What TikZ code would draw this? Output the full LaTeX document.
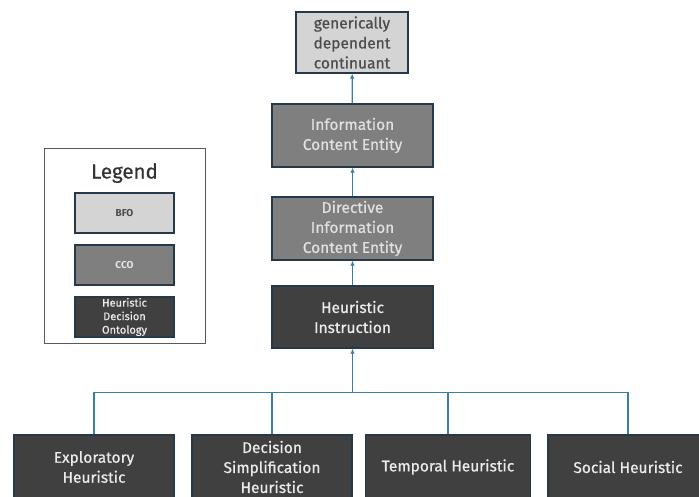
\documentclass[tikz,border=0pt]{standalone}
\usepackage{fontspec}
\setmainfont{Fira Sans}
\newfontfamily\boxfont{Fira Sans}[FakeBold=0.6]
\usetikzlibrary{arrows.meta}
\definecolor{bfogray}{HTML}{D4D4D4}
\definecolor{ccogray}{HTML}{7F7F7F}
\definecolor{hdogray}{HTML}{404040}
\definecolor{edgeblue}{HTML}{26394A}
\definecolor{linkblue}{HTML}{3A7FA3}
\begin{document}
\begin{tikzpicture}[x=1pt,y=-1pt,
  box/.style={draw=edgeblue,line width=1.3pt,align=center,inner sep=0pt,
    font=\boxfont\fontsize{15.5}{20}\selectfont},
  bfo/.style={box,fill=bfogray,text=black!70},
  cco/.style={box,fill=ccogray,text=black!12},
  hdo/.style={box,fill=hdogray,text=black!8},
  link/.style={linkblue,line width=1.2pt},
  isa/.style={link,-{Latex[length=5pt,width=4.5pt]}}]
\clip (0,0) rectangle (699,496);
\fill[white] (0,0) rectangle (699,496);

% main chain
\node (gdc) at (352,42.5) [bfo,minimum width=112pt,minimum height=61pt]{generically\\dependent\\continuant};
\node (ice) at (352.5,135.5) [cco,minimum width=161pt,minimum height=63pt]{Information\\Content Entity};
\node (dice) at (352.5,228.5) [cco,minimum width=161pt,minimum height=63pt]{Directive\\Information\\Content Entity};
\node (hi) at (352.5,317) [hdo,minimum width=161pt,minimum height=62pt]{Heuristic\\Instruction};

% heuristic kinds
\node (exh) at (94,467) [hdo,minimum width=160pt,minimum height=64pt]{Exploratory\\Heuristic};
\node (dsh) at (272,467) [hdo,minimum width=160pt,minimum height=64pt]{Decision\\Simplification\\Heuristic};
\node (tmh) at (448,467) [hdo,minimum width=165pt,minimum height=64pt]{Temporal Heuristic};
\node (soh) at (628,467) [hdo,minimum width=160pt,minimum height=64pt]{Social Heuristic};

\coordinate (bus) at (352.5,392.5);

\draw[isa] (ice)--(gdc);
\draw[isa] (dice)--(ice);
\draw[isa] (hi)--(dice);
\draw[isa] (bus)--(hi);
\draw[link] (exh.north) |- (bus);
\draw[link] (dsh.north) |- (bus);
\draw[link] (tmh.north) |- (bus);
\draw[link] (soh.north) |- (bus);

% legend
\node (legend) at (124.5,245.5) [draw=black!65,line width=1pt,minimum width=161pt,minimum height=195pt]{};
\node (ltitle) at (124.5,173) [font=\boxfont\fontsize{20.5}{22}\selectfont,text=black!80]{Legend};
\node (lbfo) at (124.5,213) [box,fill=bfogray,text=black!70,minimum width=99pt,minimum height=40pt,font=\bfseries\fontsize{10}{11}\selectfont]{BFO};
\node (lcco) at (124.5,265) [box,fill=ccogray,text=black!10,minimum width=99pt,minimum height=40pt,font=\bfseries\fontsize{10}{11}\selectfont]{CCO};
\node (lhdo) at (124.5,317) [box,fill=hdogray,text=black!8,minimum width=99pt,minimum height=40pt,font=\boxfont\fontsize{11}{13.5}\selectfont]{Heuristic\\Decision\\Ontology};
\end{tikzpicture}
\end{document}
